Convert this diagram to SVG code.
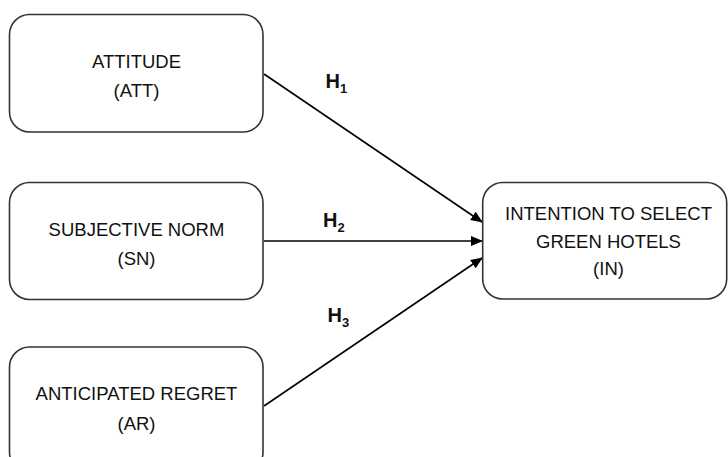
<svg xmlns="http://www.w3.org/2000/svg" width="728" height="457" viewBox="0 0 728 457">
  <style>
    .box { fill: #ffffff; stroke: #333333; stroke-width: 1.6; }
    .lbl { font-family: "Liberation Sans", Arial, sans-serif; font-size: 18.5px; fill: #111111; text-anchor: middle; }
    .hyp { font-family: "Liberation Sans", Arial, sans-serif; font-size: 20px; font-weight: bold; fill: #111111; }
    .sub { font-size: 13px; }
    .edge { stroke: #000000; stroke-width: 1.6; fill: none; marker-end: url(#arrow); }
  </style>
  <defs>
    <marker id="arrow" markerUnits="userSpaceOnUse" markerWidth="12" markerHeight="10" refX="11" refY="5" orient="auto">
      <path d="M0,0 L12,5 L0,10 z" fill="#000000"/>
    </marker>
  </defs>
  <rect width="728" height="457" fill="#ffffff"/>

  <g id="connectors">
    <line class="edge" x1="264" y1="74" x2="482" y2="222"/>
    <line class="edge" x1="264" y1="241" x2="482" y2="241"/>
    <line class="edge" x1="264" y1="406" x2="482" y2="258"/>
    <text class="hyp" x="325.5" y="88">H<tspan class="sub" dy="5">1</tspan></text>
    <text class="hyp" x="323" y="227">H<tspan class="sub" dy="5">2</tspan></text>
    <text class="hyp" x="327.5" y="322">H<tspan class="sub" dy="5">3</tspan></text>
  </g>

  <g id="att">
    <rect class="box" x="9.5" y="14.5" width="253.5" height="117.5" rx="20" ry="20"/>
    <text class="lbl" x="136.5" y="67.5">ATTITUDE</text>
    <text class="lbl" x="136.5" y="97">(ATT)</text>
  </g>

  <g id="sn">
    <rect class="box" x="9.5" y="182.5" width="253.5" height="117" rx="20" ry="20"/>
    <text class="lbl" x="136.5" y="235.5">SUBJECTIVE NORM</text>
    <text class="lbl" x="136.5" y="265">(SN)</text>
  </g>

  <g id="ar">
    <rect class="box" x="9.5" y="347" width="253.5" height="125" rx="20" ry="20"/>
    <text class="lbl" x="136.5" y="400">ANTICIPATED REGRET</text>
    <text class="lbl" x="136.5" y="429.5">(AR)</text>
  </g>

  <g id="in">
    <rect class="box" x="482.7" y="182.5" width="244" height="116.5" rx="20" ry="20"/>
    <text class="lbl" x="608.5" y="220">INTENTION TO SELECT</text>
    <text class="lbl" x="608.5" y="247.5">GREEN HOTELS</text>
    <text class="lbl" x="608.5" y="275">(IN)</text>
  </g>
</svg>
